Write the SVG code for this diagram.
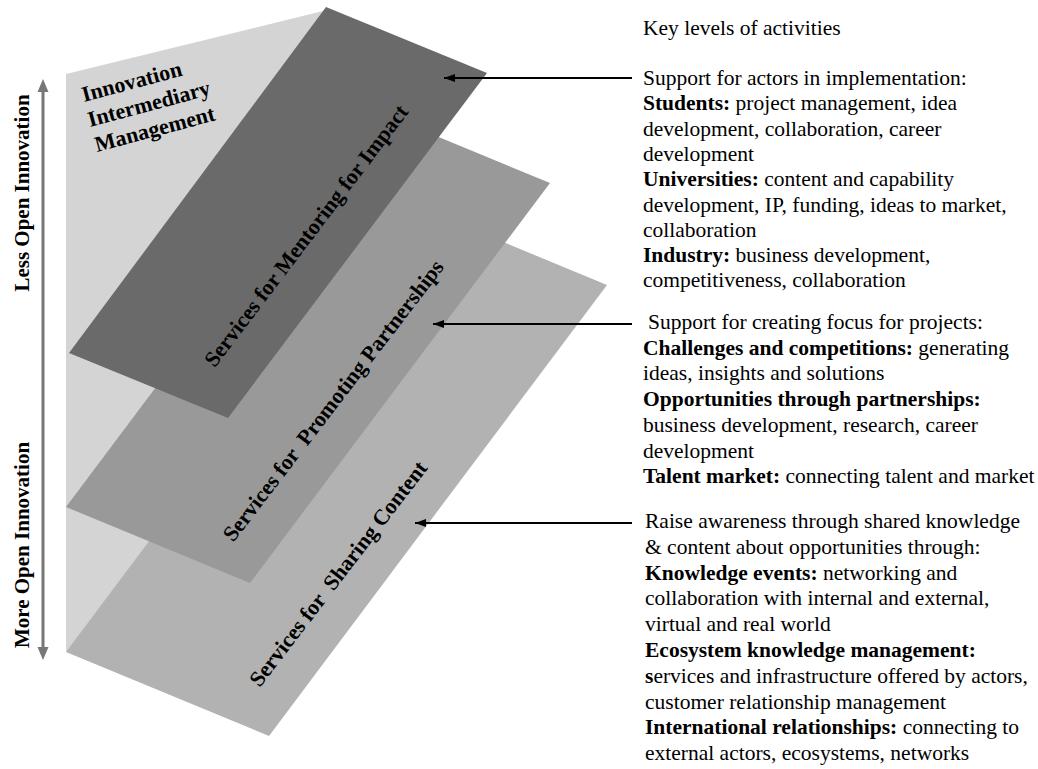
<svg xmlns="http://www.w3.org/2000/svg" width="1038" height="769" viewBox="0 0 1038 769">
<style>
.lbl{font-family:"Liberation Serif","Times New Roman",serif;font-weight:bold;font-size:22px;fill:#000}
.vt{font-family:"Liberation Serif","Times New Roman",serif;font-weight:bold;font-size:21px;fill:#000}
.txt{font-family:"Liberation Serif","Times New Roman",serif;font-size:21.5px;fill:#000}
.b{font-weight:bold}
.conn{stroke:#000;stroke-width:2;fill:none;marker-end:url(#ah)}
</style>
<defs>
<marker id="ah" markerWidth="12" markerHeight="10" refX="11" refY="5" orient="auto" markerUnits="userSpaceOnUse">
<path d="M0,1 L11,5 L0,9 Z" fill="#000"/>
</marker>
</defs>
<rect width="1038" height="769" fill="#fff"/>

<g id="background">
<polygon points="66,74 323,11 326,8 200,390 150,560 66,652" fill="#d4d4d4"/>
<text class="lbl" transform="translate(84,102) rotate(-15)">Innovation</text>
<text class="lbl" transform="translate(90,127) rotate(-15)">Intermediary</text>
<text class="lbl" transform="translate(97,152) rotate(-15)">Management</text>
</g>

<g id="axis">
<line x1="43" y1="89" x2="43" y2="650" stroke="#777" stroke-width="3"/>
<polygon points="43,79 37.5,92 48.5,92" fill="#777"/>
<polygon points="43,660 37.5,647 48.5,647" fill="#777"/>
<text class="vt" text-anchor="middle" transform="translate(29,193) rotate(-90)">Less Open Innovation</text>
<text class="vt" text-anchor="middle" transform="translate(29,545) rotate(-90)">More Open Innovation</text>
</g>

<g id="plane-sharing">
<polygon points="404,201 607,285 269,736 66,652" fill="#b2b2b2"/>
<text class="lbl" xml:space="preserve" text-anchor="middle" transform="translate(344,578) rotate(-52.5)">Services for  Sharing Content</text>
</g>

<g id="plane-partnerships">
<polygon points="366,107 550,183 250,583 66,507" fill="#999999"/>
<text class="lbl" xml:space="preserve" text-anchor="middle" transform="translate(339,405) rotate(-52.5)">Services for  Promoting Partnerships</text>
</g>

<g id="plane-mentoring">
<polygon points="326,7 487,73 228,418 69,353" fill="#6a6a6a"/>
<text class="lbl" text-anchor="middle" transform="translate(312,240) rotate(-52.8)">Services for Mentoring for Impact</text>
</g>

<g id="connectors">
<line class="conn" x1="632" y1="78" x2="444" y2="78"/>
<line class="conn" x1="632" y1="324" x2="433" y2="324"/>
<line class="conn" x1="632" y1="523" x2="415" y2="523"/>
</g>

<g id="title">
<text class="txt" x="643" y="35">Key levels of activities</text>
</g>

<g id="text-mentoring">
<text class="txt" x="643" y="85">Support for actors in implementation:</text>
<text class="txt" x="643" y="110.3"><tspan class="b">Students:</tspan> project management, idea</text>
<text class="txt" x="643" y="135.6">development, collaboration, career</text>
<text class="txt" x="643" y="160.9">development</text>
<text class="txt" x="643" y="186.2"><tspan class="b">Universities:</tspan> content and capability</text>
<text class="txt" x="643" y="211.5">development, IP, funding, ideas to market,</text>
<text class="txt" x="643" y="236.8">collaboration</text>
<text class="txt" x="643" y="262.1"><tspan class="b">Industry:</tspan> business development,</text>
<text class="txt" x="643" y="287.4">competitiveness, collaboration</text>
</g>

<g id="text-partnerships">
<text class="txt" x="648" y="329">Support for creating focus for projects:</text>
<text class="txt" x="643" y="354.7"><tspan class="b">Challenges and competitions:</tspan> generating</text>
<text class="txt" x="643" y="380.4">ideas, insights and solutions</text>
<text class="txt" x="643" y="406.1"><tspan class="b">Opportunities through partnerships:</tspan></text>
<text class="txt" x="643" y="431.8">business development, research, career</text>
<text class="txt" x="643" y="457.5">development</text>
<text class="txt" x="643" y="483.2"><tspan class="b">Talent market:</tspan> connecting talent and market</text>
</g>

<g id="text-sharing">
<text class="txt" x="645" y="528">Raise awareness through shared knowledge</text>
<text class="txt" x="645" y="553.8">&amp; content about opportunities through:</text>
<text class="txt" x="645" y="579.6"><tspan class="b">Knowledge events:</tspan> networking and</text>
<text class="txt" x="645" y="605.4">collaboration with internal and external,</text>
<text class="txt" x="645" y="631.2">virtual and real world</text>
<text class="txt" x="645" y="657"><tspan class="b">Ecosystem knowledge management:</tspan></text>
<text class="txt" x="645" y="682.8"><tspan class="b">s</tspan>ervices and infrastructure offered by actors,</text>
<text class="txt" x="645" y="708.6">customer relationship management</text>
<text class="txt" x="645" y="734.4"><tspan class="b">International relationships:</tspan> connecting to</text>
<text class="txt" x="645" y="760.2">external actors, ecosystems, networks</text>
</g>
</svg>
